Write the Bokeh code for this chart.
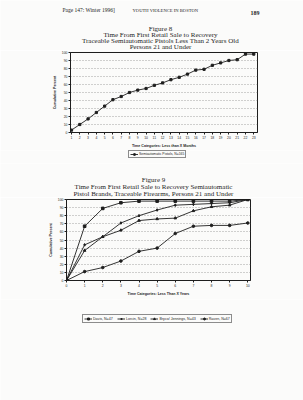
from bokeh.plotting import figure
from bokeh.layouts import column
from bokeh.models import Range1d, Legend, LegendItem, FixedTicker
from bokeh.core.properties import value
from bokeh.embed import file_html
from bokeh.resources import INLINE

PAGE_BG = "#fbfbfa"
INK = "#1e1e1e"
SERIF = "Liberation Serif"
SANS = "Liberation Sans"

# ---------------- data ----------------
page_header_left = "Page 147: Winter 1996]"
page_header_mid = "YOUTH VIOLENCE IN BOSTON"
page_number = "189"

fig8_heading = "Figure 8"
fig8_title = ["Time From First Retail Sale to Recovery",
              "Traceable Semiautomatic Pistols Less Than 2 Years Old",
              "Persons 21 and Under"]
fig8_months = list(range(1, 24))
fig8_cum_pct = [3, 10, 17, 25, 33, 41, 45, 50, 53, 55, 59, 62, 66, 69, 73, 78, 79, 84, 87, 90, 91, 98, 98]
fig8_series = "Semiautomatic Pistols, N=165"
fig8_xtitle = "Time Categories: Less than X Months"

fig9_heading = "Figure 9"
fig9_title = ["Time From First Retail Sale to Recovery Semiautomatic",
              "Pistol Brands, Traceable Firearms, Persons 21 and Under"]
fig9_years = list(range(0, 11))
fig9_davis = [0, 67, 89, 96, 98, 98, 98, 98, 98, 98, 100]
fig9_lorcin = [0, 44, 54, 71, 80, 87, 93, 94, 95, 96, 100]
fig9_bryco = [0, 37, 54, 62, 74, 76, 77, 86, 91, 93, 100]
fig9_raven = [0, 11, 16, 24, 36, 40, 58, 67, 68, 68, 71]
fig9_names = ["Davis, N=47", "Lorcin, N=28", "Bryco/ Jennings, N=43", "Raven, N=67"]
fig9_markers = ["square", "diamond", "triangle", "circle"]
fig9_xtitle = "Time Categories: Less Than X Years"

y_ticks = list(range(0, 101, 10))
y_title = "Cumulative Percent"


def no_align(f):
    try:
        f.frame_align = False
    except Exception:
        pass
    return f


def text_fig(h, flip=True):
    yr = Range1d(h, 0) if flip else Range1d(0, h)
    f = figure(width=303, height=h, frame_width=303, frame_height=h,
               x_range=Range1d(0, 303), y_range=yr,
               min_border=0, toolbar_location=None, output_backend="svg",
               x_axis_location=None, y_axis_location=None,
               background_fill_color=PAGE_BG, border_fill_color=PAGE_BG,
               outline_line_color=None)
    f.grid.visible = False
    return no_align(f)


def put(f, x, y, txt, size, align="center", style="normal", font=SERIF):
    f.text(x=[x], y=[y], text=[txt], text_font=value(font),
           text_font_size=value(f"{size}px"), text_align=align,
           text_baseline="middle", text_color=INK, text_font_style=style)


def style_axes(p, xticks, xtitle):
    p.xaxis.ticker = FixedTicker(ticks=xticks)
    p.yaxis.ticker = FixedTicker(ticks=y_ticks)
    p.yaxis.axis_label = y_title
    p.xaxis.axis_label = xtitle
    for ax in (p.xaxis, p.yaxis):
        ax.major_label_text_font = SANS
        ax.major_label_text_font_size = "3.4px"
        ax.major_label_text_color = INK
        ax.axis_label_text_font = SANS
        ax.axis_label_text_font_size = "3.6px"
        ax.axis_label_text_font_style = "bold"
        ax.axis_label_text_color = INK
        ax.axis_label_standoff = 2
        ax.major_label_standoff = 1
        ax.major_tick_out = 2
        ax.major_tick_in = 0
        ax.minor_tick_line_color = None
        ax.axis_line_color = INK
        ax.major_tick_line_color = INK
    p.xgrid.visible = False
    p.ygrid.grid_line_color = "#6a6a6a"
    p.ygrid.grid_line_dash = "1 2"
    p.ygrid.grid_line_width = 0.6
    p.outline_line_color = INK
    p.outline_line_width = 1


def legend_fig(h, series, names, markers, loc, font_size, glyph_h):
    # the legend sits in its own strip; its entries use hidden renderers of the same series
    f = text_fig(h, flip=False)
    items = []
    for (xs, ys), name, mk in zip(series, names, markers):
        ln = f.line(xs, ys, line_color=INK, line_width=0.9, visible=False)
        sc = f.scatter(xs, ys, marker=mk, size=2.6, color=INK, visible=False)
        items.append(LegendItem(label=name, renderers=[ln, sc]))
    leg = Legend(items=items, orientation="horizontal", location=loc,
                 label_text_font=SANS, label_text_font_size=font_size, label_text_color=INK,
                 glyph_width=8, glyph_height=glyph_h, label_height=glyph_h, label_standoff=1,
                 padding=1, margin=0, spacing=4,
                 inactive_fill_alpha=0,
                 border_line_color=INK, border_line_width=0.7,
                 background_fill_color=PAGE_BG)
    f.add_layout(leg)
    return f


# ---------------- header + figure 8 titles ----------------
head8 = text_fig(50)
put(head8, 62, 9.5, page_header_left, 5.5, align="left")
put(head8, 132, 10.3, page_header_mid, 4.6, align="left")
put(head8, 250, 12.5, page_number, 6, align="left", style="bold")
put(head8, 160, 28, fig8_heading, 7)
for i, t in enumerate(fig8_title):
    put(head8, 160, 34.4 + 5.9 * i, t, 7)

# ---------------- figure 8 chart ----------------
p8 = figure(width=303, height=97, frame_width=187, frame_height=80,
            x_range=Range1d(0.88, 23.45), y_range=Range1d(0, 100),
            min_border_left=70, min_border_right=46, min_border_top=2, min_border_bottom=15,
            toolbar_location=None, output_backend="svg",
            background_fill_color=PAGE_BG, border_fill_color=PAGE_BG)
no_align(p8)
style_axes(p8, fig8_months, fig8_xtitle)
p8.line(fig8_months, fig8_cum_pct, line_color=INK, line_width=0.9)
p8.scatter(fig8_months, fig8_cum_pct, marker="square", size=2.2, color=INK)

leg8 = legend_fig(13, [(fig8_months, fig8_cum_pct)], [fig8_series], ["square"],
                  (128, 5), "3.4px", 4)

# ---------------- figure 9 titles ----------------
head9 = text_fig(34)
put(head9, 153, 16, fig9_heading, 7)
for i, t in enumerate(fig9_title):
    put(head9, 153, 23.5 + 7.0 * i, t, 7)

# ---------------- figure 9 chart ----------------
fig9_series = [(fig9_years, ys) for ys in (fig9_davis, fig9_lorcin, fig9_bryco, fig9_raven)]
p9 = figure(width=303, height=102, frame_width=184, frame_height=81,
            x_range=Range1d(0, 10.15), y_range=Range1d(0, 100),
            min_border_left=66, min_border_right=53, min_border_top=2, min_border_bottom=19,
            toolbar_location=None, output_backend="svg",
            background_fill_color=PAGE_BG, border_fill_color=PAGE_BG)
no_align(p9)
style_axes(p9, fig9_years, fig9_xtitle)
for (xs, ys), mk in zip(fig9_series, fig9_markers):
    p9.line(xs, ys, line_color=INK, line_width=0.9)
    p9.scatter(xs, ys, marker=mk, size=2.6, color=INK)

leg9 = legend_fig(104, fig9_series, fig9_names, fig9_markers, (82, 80), "3.6px", 5)

layout = column(head8, p8, leg8, head9, p9, leg9, spacing=0)
open("out.html", "w").write(file_html(layout, INLINE))
